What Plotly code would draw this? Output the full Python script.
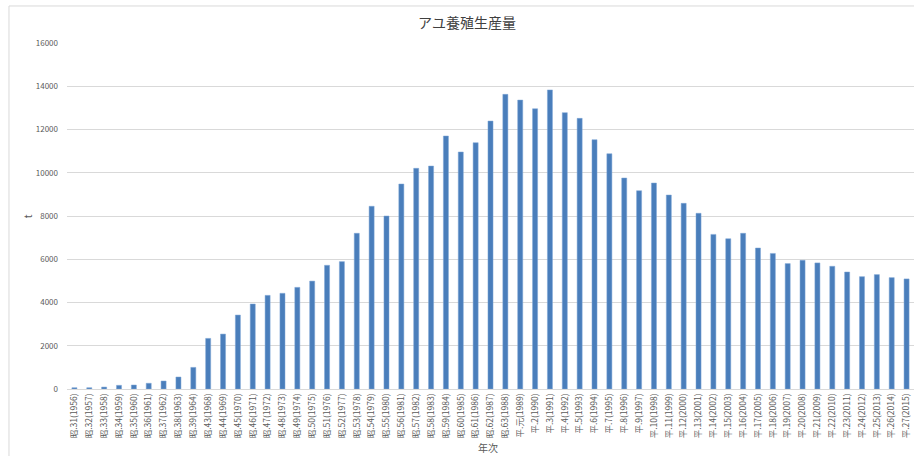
import plotly.graph_objects as go

# 年次ラベル(和暦・西暦)
years = [
    "昭.31(1956)", "昭.32(1957)", "昭.33(1958)", "昭.34(1959)", "昭.35(1960)",
    "昭.36(1961)", "昭.37(1962)", "昭.38(1963)", "昭.39(1964)", "昭.43(1968)",
    "昭.44(1969)", "昭.45(1970)", "昭.46(1971)", "昭.47(1972)", "昭.48(1973)",
    "昭.49(1974)", "昭.50(1975)", "昭.51(1976)", "昭.52(1977)", "昭.53(1978)",
    "昭.54(1979)", "昭.55(1980)", "昭.56(1981)", "昭.57(1982)", "昭.58(1983)",
    "昭.59(1984)", "昭.60(1985)", "昭.61(1986)", "昭.62(1987)", "昭.63(1988)",
    "平.元(1989)", "平.2(1990)", "平.3(1991)", "平.4(1992)", "平.5(1993)",
    "平.6(1994)", "平.7(1995)", "平.8(1996)", "平.9(1997)", "平.10(1998)",
    "平.11(1999)", "平.12(2000)", "平.13(2001)", "平.14(2002)", "平.15(2003)",
    "平.16(2004)", "平.17(2005)", "平.18(2006)", "平.19(2007)", "平.20(2008)",
    "平.21(2009)", "平.22(2010)", "平.23(2011)", "平.24(2012)", "平.25(2013)",
    "平.26(2014)", "平.27(2015)",
]

# アユ養殖生産量 (t)
production = [
    60, 60, 90, 170, 185,
    265, 370, 555, 1000, 2340,
    2540, 3420, 3930, 4330, 4425,
    4700, 4990, 5720, 5890, 7200,
    8450, 8000, 9480, 10205, 10310,
    11700, 10960, 11390, 12390, 13625,
    13360, 12960, 13830, 12780, 12515,
    11530, 10880, 9757, 9170, 9525,
    8970, 8585, 8125, 7150, 6950,
    7200, 6520, 6270, 5800, 5950,
    5830, 5675, 5410, 5195, 5290,
    5150, 5090,
]

y_ticks = [0, 2000, 4000, 6000, 8000, 10000, 12000, 14000, 16000]

FONT = "Noto Sans CJK JP"
GRAY = "#595959"

fig = go.Figure(
    go.Bar(
        x=years,
        y=production,
        marker=dict(color="#4a7ebb", line=dict(color="#7fa6d6", width=0.5)),
    )
)

fig.update_layout(
    width=914,
    height=456,
    margin=dict(l=67, r=0, t=43, b=67),
    paper_bgcolor="white",
    plot_bgcolor="white",
    bargap=0.66,
    showlegend=False,
    font=dict(family=FONT, color=GRAY),
    shapes=[
        # chart frame
        dict(
            type="rect", xref="paper", yref="paper",
            x0=-0.0685, x1=1.2, y0=-0.4, y1=1.107,
            line=dict(color="#d9d9d9", width=1),
            fillcolor="rgba(0,0,0,0)", layer="below",
        )
    ],
    annotations=[
        dict(text="アユ養殖生産量", xref="paper", yref="paper",
             x=0.472, y=1.062, xanchor="center", yanchor="middle",
             showarrow=False,
             font=dict(family=FONT, size=14, color="#404040")),
        dict(text="年次", xref="paper", yref="paper",
             x=0.497, y=-0.17, xanchor="center", yanchor="middle",
             showarrow=False,
             font=dict(family=FONT, size=10, color=GRAY)),
        dict(text="t", xref="paper", yref="paper",
             x=-0.047, y=0.5, xanchor="center", yanchor="middle",
             showarrow=False, textangle=-90,
             font=dict(family=FONT, size=10, color=GRAY)),
    ],
)

fig.update_xaxes(
    type="category",
    tickangle=-90,
    tickfont=dict(family=FONT, size=8.5, color=GRAY),
    showgrid=False,
    showline=True,
    linecolor="#d9d9d9",
    linewidth=1,
    ticks="",
)

fig.update_yaxes(
    range=[0, 16000],
    tickvals=y_ticks,
    tickformat="d",
    tickfont=dict(family=FONT, size=8, color=GRAY),
    showgrid=True,
    gridcolor="#d9d9d9",
    gridwidth=1,
    zeroline=False,
    showline=False,
    ticks="",
    ticklabelstandoff=8,
)

fig.write_html("out.html")
